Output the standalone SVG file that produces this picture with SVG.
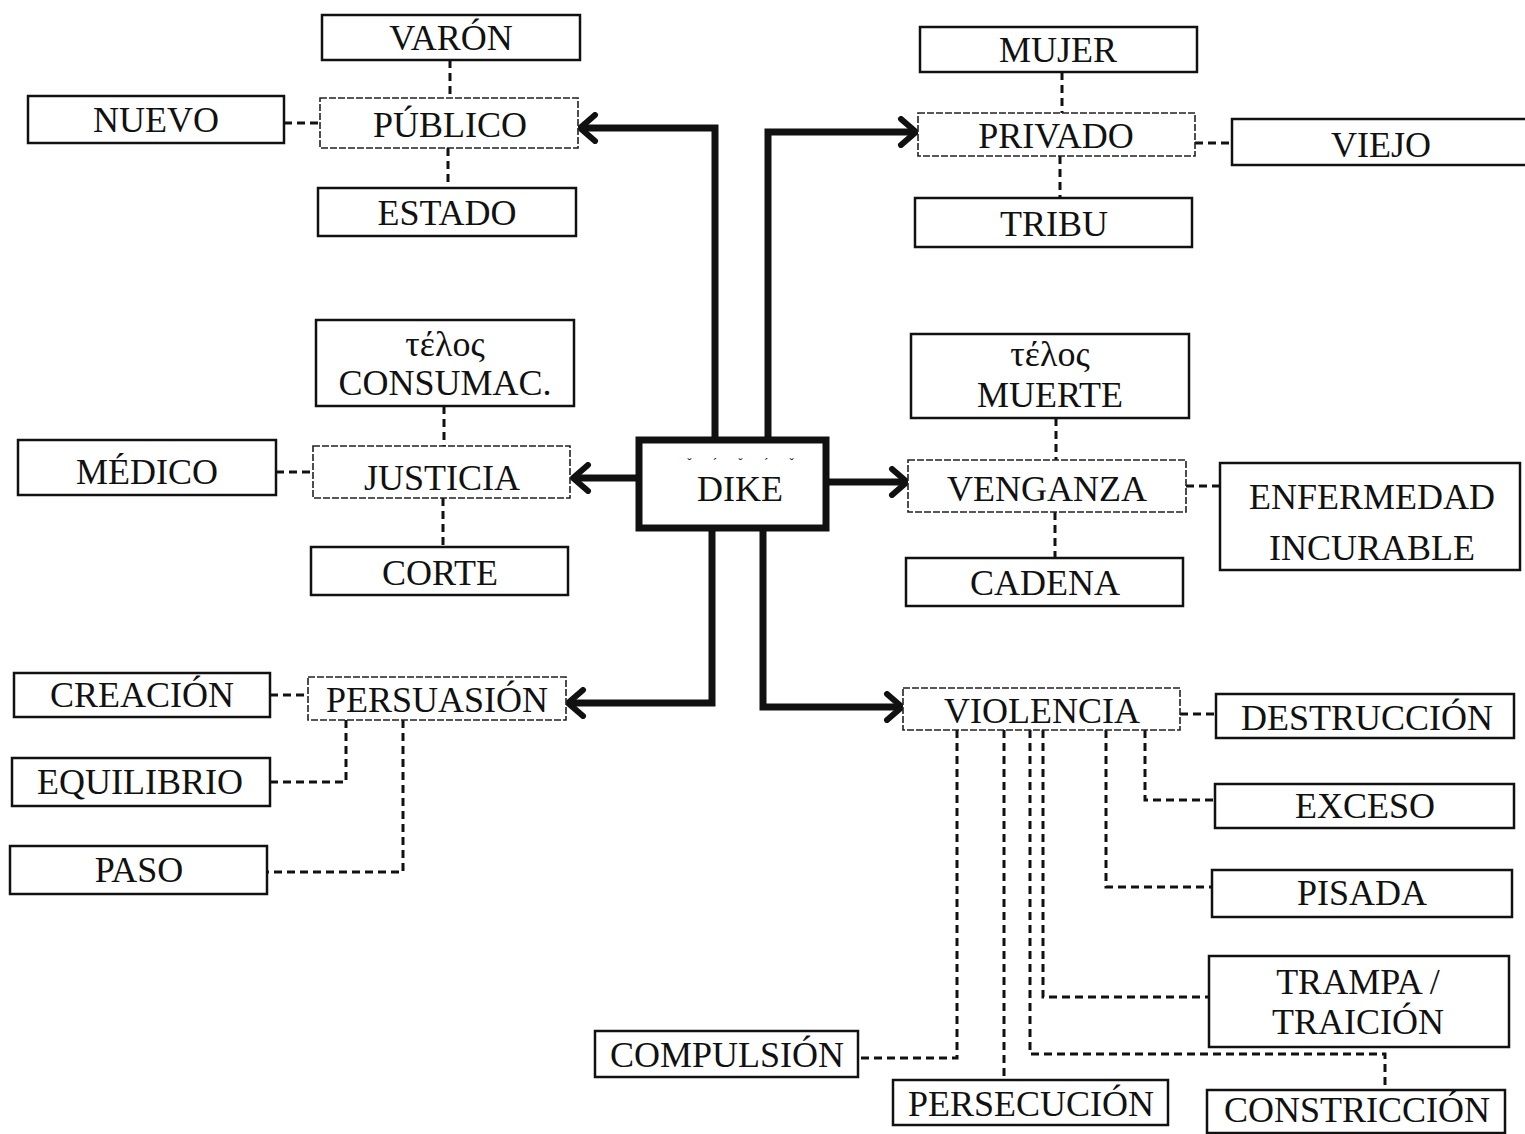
<svg xmlns="http://www.w3.org/2000/svg" width="1525" height="1134" viewBox="0 0 1525 1134">
<style>
text{font-family:"Liberation Serif","DejaVu Serif",serif;font-size:36px;fill:#111;text-anchor:middle}
.sec{fill:#fff;stroke:#111;stroke-width:2.5}
.pri{fill:#fff;stroke:#222;stroke-width:1.6;stroke-dasharray:7 2}
.main{fill:#fff;stroke:#111;stroke-width:7}
.thick{fill:none;stroke:#111;stroke-width:7;stroke-linejoin:miter;marker-end:url(#arr)}
.dash{fill:none;stroke:#111;stroke-width:3;stroke-dasharray:8 5}
.marks{font-size:13px;letter-spacing:9px}
</style>
<defs>
<marker id="arr" markerUnits="userSpaceOnUse" viewBox="0 0 22 32" refX="19" refY="16" markerWidth="22" markerHeight="32" orient="auto">
<path d="M4,3 L19,16 L4,29" fill="none" stroke="#111" stroke-width="6" stroke-linecap="round" stroke-linejoin="round"/>
</marker>
</defs>
<g id="connectors">
<path class="thick" d="M715,440 V128 H580"/>
<path class="thick" d="M768,440 V132 H916"/>
<path class="thick" d="M639,478 H573"/>
<path class="thick" d="M826,482 H907"/>
<path class="thick" d="M712,528 V703 H568"/>
<path class="thick" d="M763,528 V707 H902"/>
<path class="dash" d="M450,60 V98"/>
<path class="dash" d="M448,148 V188"/>
<path class="dash" d="M284,123 H320"/>
<path class="dash" d="M444,406 V446"/>
<path class="dash" d="M443,498 V547"/>
<path class="dash" d="M276,472 H313"/>
<path class="dash" d="M270,695 H308"/>
<path class="dash" d="M346,720 V782 H270"/>
<path class="dash" d="M403,720 V872 H267"/>
<path class="dash" d="M1062,72 V113"/>
<path class="dash" d="M1060,156 V198"/>
<path class="dash" d="M1195,143 H1232"/>
<path class="dash" d="M1056,418 V460"/>
<path class="dash" d="M1055,512 V558"/>
<path class="dash" d="M1186,486 H1220"/>
<path class="dash" d="M1180,714 H1216"/>
<path class="dash" d="M1145,730 V800 H1215"/>
<path class="dash" d="M1106,730 V887 H1212"/>
<path class="dash" d="M1043,730 V997 H1209"/>
<path class="dash" d="M1030,730 V1054 H1385 V1090"/>
<path class="dash" d="M1004,730 V1080"/>
<path class="dash" d="M957,730 V1058 H858"/>
</g>
<g id="varon"><rect class="sec" x="322" y="15" width="258" height="45"/><text x="451" y="50">VARÓN</text></g>
<g id="publico"><rect class="pri" x="320" y="98" width="258" height="50"/><text x="450" y="137">PÚBLICO</text></g>
<g id="nuevo"><rect class="sec" x="28" y="96" width="256" height="47"/><text x="156" y="132">NUEVO</text></g>
<g id="estado"><rect class="sec" x="318" y="188" width="258" height="48"/><text x="447" y="225">ESTADO</text></g>
<g id="consumac"><rect class="sec" x="316" y="320" width="258" height="86"/><text x="445" y="356">τέλος</text><text x="445" y="395">CONSUMAC.</text></g>
<g id="justicia"><rect class="pri" x="313" y="446" width="257" height="52"/><text x="442" y="490">JUSTICIA</text></g>
<g id="medico"><rect class="sec" x="18" y="440" width="258" height="55"/><text x="147" y="484">MÉDICO</text></g>
<g id="corte"><rect class="sec" x="311" y="547" width="257" height="48"/><text x="440" y="585">CORTE</text></g>
<g id="creacion"><rect class="sec" x="14" y="673" width="256" height="44"/><text x="142" y="707">CREACIÓN</text></g>
<g id="persuasion"><rect class="pri" x="308" y="677" width="258" height="43"/><text x="437" y="712">PERSUASIÓN</text></g>
<g id="equilibrio"><rect class="sec" x="12" y="758" width="258" height="48"/><text x="140" y="794">EQUILIBRIO</text></g>
<g id="paso"><rect class="sec" x="10" y="846" width="257" height="48"/><text x="139" y="882">PASO</text></g>
<g id="dike"><rect class="main" x="639" y="440" width="187" height="88"/><text class="marks" x="745" y="467">ˇ ˊ ˇ ˊ ˇ</text><text x="740" y="501">DIKE</text></g>
<g id="mujer"><rect class="sec" x="920" y="27" width="277" height="45"/><text x="1058" y="62">MUJER</text></g>
<g id="privado"><rect class="pri" x="918" y="113" width="277" height="43"/><text x="1056" y="148">PRIVADO</text></g>
<g id="viejo"><rect class="sec" x="1232" y="119" width="300" height="46"/><text x="1381" y="157">VIEJO</text></g>
<g id="tribu"><rect class="sec" x="915" y="198" width="277" height="49"/><text x="1054" y="236">TRIBU</text></g>
<g id="muerte"><rect class="sec" x="911" y="334" width="278" height="84"/><text x="1050" y="366">τέλος</text><text x="1050" y="407">MUERTE</text></g>
<g id="venganza"><rect class="pri" x="908" y="460" width="278" height="52"/><text x="1047" y="501">VENGANZA</text></g>
<g id="enfermedad"><rect class="sec" x="1220" y="463" width="300" height="107"/><text x="1372" y="509">ENFERMEDAD</text><text x="1372" y="560">INCURABLE</text></g>
<g id="cadena"><rect class="sec" x="906" y="558" width="277" height="48"/><text x="1045" y="595">CADENA</text></g>
<g id="violencia"><rect class="pri" x="903" y="688" width="277" height="42"/><text x="1042" y="723">VIOLENCIA</text></g>
<g id="destruccion"><rect class="sec" x="1216" y="694" width="298" height="44"/><text x="1367" y="730">DESTRUCCIÓN</text></g>
<g id="exceso"><rect class="sec" x="1215" y="784" width="299" height="44"/><text x="1365" y="818">EXCESO</text></g>
<g id="pisada"><rect class="sec" x="1212" y="870" width="300" height="47"/><text x="1362" y="905">PISADA</text></g>
<g id="trampa"><rect class="sec" x="1209" y="956" width="300" height="91"/><text x="1358" y="994">TRAMPA /</text><text x="1358" y="1034">TRAICIÓN</text></g>
<g id="compulsion"><rect class="sec" x="595" y="1031" width="263" height="46"/><text x="727" y="1067">COMPULSIÓN</text></g>
<g id="persecucion"><rect class="sec" x="893" y="1080" width="275" height="45"/><text x="1031" y="1116">PERSECUCIÓN</text></g>
<g id="constriccion"><rect class="sec" x="1207" y="1090" width="298" height="43"/><text x="1357" y="1122">CONSTRICCIÓN</text></g>
</svg>
